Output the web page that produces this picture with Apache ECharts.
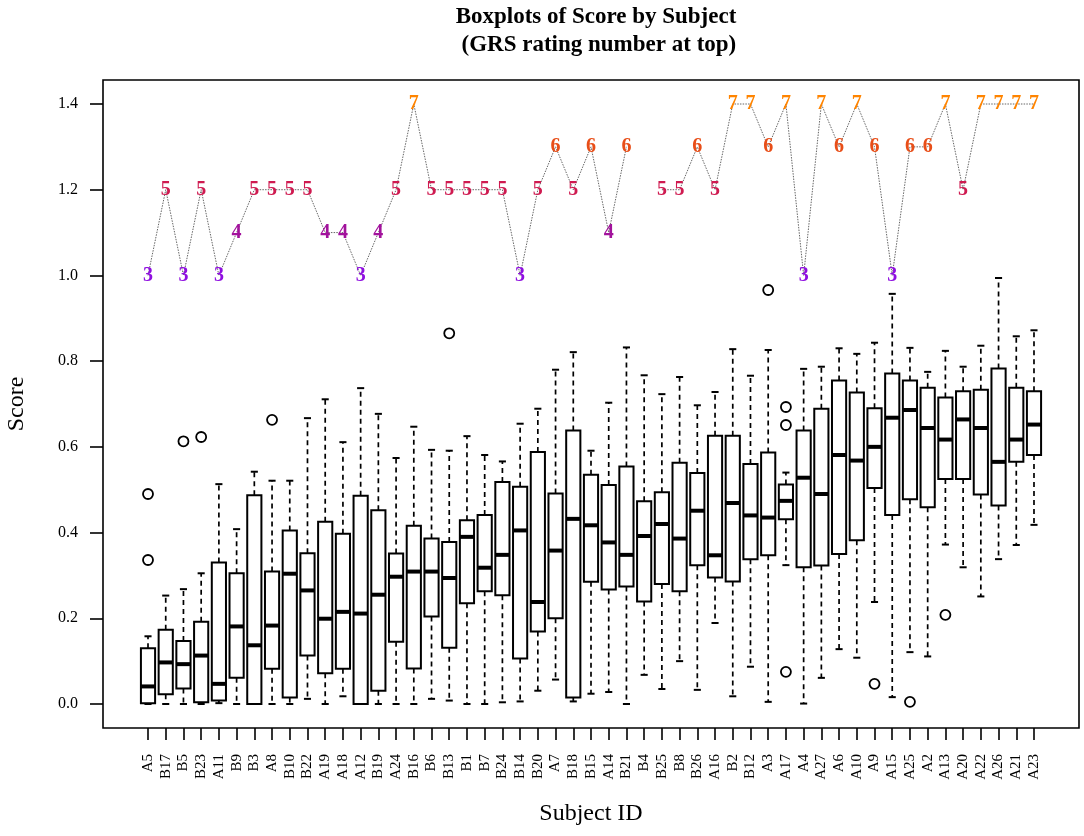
<!DOCTYPE html>
<html>
<head>
<meta charset="utf-8">
<script src="https://cdn.jsdelivr.net/npm/echarts@6/dist/echarts.min.js"></script>
<style>
html,body{margin:0;padding:0;background:#fff;}
#chart{width:1084px;height:836px;}
</style>
</head>
<body>
<div id="chart"></div>
<script>
var subjects = ['A5','B17','B5','B23','A11','B9','B3','A8','B10','B22','A19','A18','A12','B19','A24','B16','B6','B13','B1','B7','B24','B14','B20','A7','B18','B15','A14','B21','B4','B25','B8','B26','A16','B2','B12','A3','A17','A4','A27','A6','A10','A9','A15','A25','A2','A13','A20','A22','A26','A21','A23'];

var whiskLow = [0.000,0.000,0.000,0.000,0.002,0.000,0.000,0.000,0.000,0.012,0.000,0.018,0.000,0.000,0.000,0.000,0.012,0.008,0.000,0.000,0.004,0.006,0.031,0.057,0.006,0.024,0.028,0.000,0.068,0.035,0.100,0.033,0.189,0.018,0.087,0.005,0.324,0.001,0.061,0.128,0.108,0.238,0.016,0.121,0.111,0.372,0.319,0.251,0.338,0.371,0.418];
var q1 = [0.002,0.023,0.036,0.004,0.008,0.061,0.000,0.082,0.015,0.113,0.072,0.082,0.000,0.031,0.145,0.083,0.204,0.131,0.235,0.263,0.254,0.106,0.169,0.200,0.015,0.285,0.267,0.274,0.239,0.280,0.263,0.324,0.295,0.286,0.338,0.347,0.431,0.319,0.323,0.350,0.382,0.504,0.441,0.478,0.459,0.525,0.525,0.489,0.463,0.565,0.581];
var median = [0.041,0.097,0.093,0.113,0.047,0.181,0.137,0.183,0.304,0.265,0.199,0.215,0.211,0.255,0.297,0.309,0.309,0.294,0.390,0.318,0.348,0.405,0.238,0.358,0.432,0.417,0.377,0.348,0.392,0.420,0.386,0.451,0.347,0.469,0.440,0.435,0.474,0.528,0.490,0.581,0.568,0.600,0.668,0.686,0.644,0.617,0.664,0.644,0.565,0.617,0.652];
var q3 = [0.130,0.173,0.147,0.192,0.330,0.305,0.487,0.309,0.405,0.352,0.425,0.397,0.486,0.452,0.351,0.416,0.386,0.378,0.429,0.441,0.518,0.507,0.588,0.491,0.638,0.535,0.511,0.554,0.473,0.494,0.563,0.539,0.626,0.626,0.560,0.587,0.512,0.638,0.689,0.755,0.727,0.690,0.771,0.755,0.738,0.715,0.730,0.733,0.783,0.738,0.730];
var whiskHigh = [0.158,0.253,0.268,0.305,0.513,0.408,0.542,0.521,0.521,0.667,0.711,0.611,0.737,0.677,0.574,0.647,0.593,0.591,0.625,0.581,0.566,0.654,0.689,0.780,0.821,0.591,0.703,0.832,0.767,0.723,0.763,0.697,0.728,0.828,0.766,0.826,0.540,0.782,0.787,0.830,0.817,0.843,0.957,0.831,0.775,0.824,0.787,0.836,0.994,0.858,0.872];

var outlierSubject = ['A5','A5','B5','B23','A8','B13','A3','A17','A17','A17','A9','A25','A13'];
var outlierValue = [0.490,0.336,0.613,0.623,0.663,0.865,0.966,0.693,0.651,0.075,0.047,0.005,0.208];

// GRS rating per subject (null = missing)
var grs = [3,5,3,5,3,4,5,5,5,5,4,4,3,4,5,7,5,5,5,5,5,3,5,6,5,6,4,6,null,5,5,6,5,7,7,6,7,3,7,6,7,6,3,6,6,7,5,7,7,7,7];
var grsColors = {3:'#8F0FE0',4:'#A2129C',5:'#CF1A50',6:'#E84E18',7:'#FF8400'};

var yTicks = [0,0.2,0.4,0.6,0.8,1.0,1.2,1.4];

var serif = 'Liberation Serif';
var xTickIdx = subjects.map(function(s,i){return i;});

var boxData = subjects.map(function(s,i){return [i, whiskLow[i], q1[i], median[i], q3[i], whiskHigh[i]];});
var outData = outlierSubject.map(function(s,k){return [subjects.indexOf(s), outlierValue[k]];});
var grsLine = subjects.map(function(s,i){return [i, grs[i]==null ? '-' : grs[i]];});
var grsLabels = [];
subjects.forEach(function(s,i){
  if (grs[i]!=null) grsLabels.push({value:[i, grs[i]], label:{color: grsColors[grs[i]]}});
});

var chart = echarts.init(document.getElementById('chart'));
chart.setOption({
  backgroundColor:'#fff',
  animation:false,
  title:{
    text:'Boxplots of Score by Subject\n (GRS rating number at top)',
    left:591, top:-2, textAlign:'center',
    textStyle:{fontFamily:serif, fontWeight:'bold', fontSize:23, lineHeight:28, color:'#000'}
  },
  grid:{left:103, right:5, top:80, bottom:108, show:true, borderColor:'#000', borderWidth:1.6, backgroundColor:'transparent', outerBoundsMode:'none', containLabel:false},
  xAxis:{
    type:'value', min:-2.54, max:52.54,
    name:'Subject ID', nameLocation:'middle', nameGap:74,
    nameTextStyle:{fontFamily:serif, fontSize:24, color:'#000'},
    splitLine:{show:false},
    axisLine:{show:false, onZero:false},
    axisTick:{show:true, length:12, customValues:xTickIdx, lineStyle:{color:'#000', width:1.6}},
    axisLabel:{show:true, customValues:xTickIdx, rotate:90, margin:26,
      fontFamily:serif, fontSize:15, color:'#000',
      formatter:function(v){return subjects[Math.round(v)] || '';}}
  },
  yAxis:[{
    type:'value', min:-0.056, max:1.456,
    name:'Score', nameLocation:'middle', nameGap:74, nameRotate:90,
    nameTextStyle:{fontFamily:serif, fontSize:24, color:'#000'},
    splitLine:{show:false},
    axisLine:{show:false, onZero:false},
    axisTick:{show:true, length:13, customValues:yTicks, lineStyle:{color:'#000', width:1.6}},
    axisLabel:{show:true, customValues:yTicks, margin:25,
      fontFamily:serif, fontSize:16, color:'#000',
      formatter:function(v){return v.toFixed(1);}}
  },{
    type:'value', min:-7.56, max:7.56, show:false,
    axisLine:{onZero:false},
    splitLine:{show:false}
  }],
  series:[{
    type:'custom',
    data:boxData,
    encode:{x:0, y:[1,2,3,4,5]},
    renderItem:function(params, api){
      var x = api.value(0);
      var w = api.size([0.8,0])[0];
      var pLo = api.coord([x, api.value(1)]);
      var pA = api.coord([x, api.value(2)]);
      var pM = api.coord([x, api.value(3)]);
      var pB = api.coord([x, api.value(4)]);
      var pHi = api.coord([x, api.value(5)]);
      var cx = pA[0];
      var dash = {stroke:'#000', lineWidth:1.7, lineDash:[5,4], fill:null};
      var solid = {stroke:'#000', lineWidth:2, fill:null};
      return {type:'group', children:[
        {type:'line', shape:{x1:cx,y1:pB[1],x2:cx,y2:pHi[1]}, style:dash},
        {type:'line', shape:{x1:cx,y1:pA[1],x2:cx,y2:pLo[1]}, style:dash},
        {type:'line', shape:{x1:cx-w/4,y1:pHi[1],x2:cx+w/4,y2:pHi[1]}, style:solid},
        {type:'line', shape:{x1:cx-w/4,y1:pLo[1],x2:cx+w/4,y2:pLo[1]}, style:solid},
        {type:'rect', shape:{x:cx-w/2, y:pB[1], width:w, height:pA[1]-pB[1]}, style:{stroke:'#000', lineWidth:2, fill:'#fff'}},
        {type:'line', shape:{x1:cx-w/2,y1:pM[1],x2:cx+w/2,y2:pM[1]}, style:{stroke:'#000', lineWidth:4}}
      ]};
    },
    z:2
  },{
    type:'scatter',
    data:outData,
    symbol:'circle', symbolSize:10,
    itemStyle:{color:'#fff', borderColor:'#000', borderWidth:1.8, opacity:1},
    z:3
  },{
    type:'line',
    yAxisIndex:1,
    data:grsLine,
    showSymbol:false,
    connectNulls:false,
    lineStyle:{color:'#666', width:1, type:[1.5,1.2]},
    z:4
  },{
    type:'scatter',
    yAxisIndex:1,
    data:grsLabels,
    symbolSize:2,
    itemStyle:{color:'rgba(0,0,0,0)', opacity:1},
    label:{show:true, position:'inside', opacity:1, fontFamily:serif, fontWeight:'bold', fontSize:20,
      formatter:function(p){return String(p.value[1]);}},
    z:5
  }]
});
</script>
</body>
</html>
